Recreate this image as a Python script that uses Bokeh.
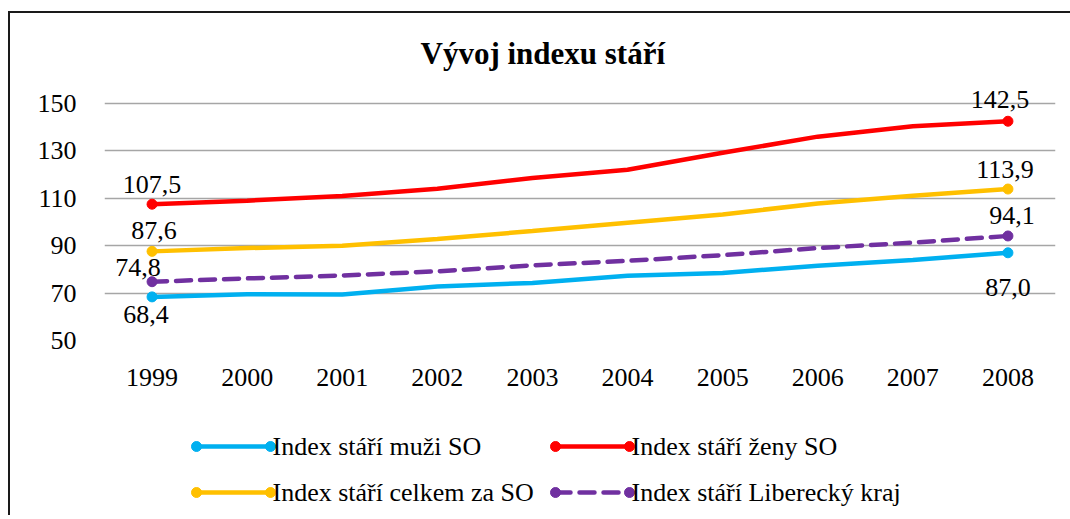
from bokeh.plotting import figure
from bokeh.models import Range1d, FactorRange, ColumnDataSource
from bokeh.layouts import column
from bokeh.core.properties import value
from bokeh.embed import file_html
from bokeh.resources import INLINE

# ---- data ----
years = ["1999", "2000", "2001", "2002", "2003", "2004", "2005", "2006", "2007", "2008"]
muzi = [68.4, 69.5, 69.4, 72.8, 74.3, 77.3, 78.5, 81.5, 84.0, 87.0]
zeny = [107.5, 109.0, 111.0, 114.0, 118.6, 122.0, 129.2, 136.0, 140.4, 142.5]
celkem = [87.6, 89.0, 90.0, 92.8, 96.2, 99.7, 103.2, 107.8, 111.1, 113.9]
liberec = [74.8, 76.2, 77.4, 79.2, 81.7, 83.6, 86.0, 89.0, 91.3, 94.1]
y_ticks = [50, 70, 90, 110, 130, 150]

series_names = ["Index stáří muži SO", "Index stáří ženy SO",
                "Index stáří celkem za SO", "Index stáří Liberecký kraj"]
series_values = [muzi, zeny, celkem, liberec]
colors = ["#00b0f0", "#ff0000", "#ffc000", "#7030a0"]
dashes = ["solid", "solid", "solid", "15 9"]

MB_LEFT, MB_RIGHT, WIDTH = 94, 15, 1060

fig = figure(width=WIDTH, height=397,
             x_range=FactorRange(*years), y_range=Range1d(50, 158),
             output_backend="svg", toolbar_location=None,
             min_border_left=MB_LEFT, min_border_right=MB_RIGHT,
             min_border_top=71, min_border_bottom=70)
fig.outline_line_color = None
fig.background_fill_color = "white"
fig.border_fill_color = "white"

fig.title.text = "Vývoj indexu stáří"
fig.title.align = "left"
fig.title.offset = 316
fig.title.text_font = "Liberation Serif"
fig.title.text_font_size = "31px"
fig.title.text_font_style = "bold"
fig.title.text_color = "black"
fig.title.standoff = 27

fig.xgrid.grid_line_color = None
fig.ygrid.grid_line_color = "#a6a6a6"
fig.ygrid.grid_line_width = 1.6
fig.yaxis.ticker = y_ticks
for ax in (fig.xaxis[0], fig.yaxis[0]):
    ax.axis_line_color = None
    ax.major_tick_line_color = None
    ax.minor_tick_line_color = None
    ax.major_label_text_font = "Liberation Serif"
    ax.major_label_text_font_size = "26px"
    ax.major_label_text_color = "black"
fig.yaxis.major_label_standoff = 22
fig.xaxis.major_label_standoff = 22

for vals, c, d in zip(series_values, colors, dashes):
    fig.line(years, vals, line_color=c, line_width=4.5, line_dash=d, line_cap="round")
    fig.scatter([years[0], years[-1]], [vals[0], vals[-1]], size=10,
                fill_color=c, line_color=c)

# data labels at first and last point
lab_x, lab_y, lab_t = [], [], []
for vals in series_values:
    for i in (0, len(vals) - 1):
        lab_x.append(years[i])
        lab_y.append(vals[i])
        lab_t.append(f"{vals[i]:.1f}".replace(".", ","))
# offsets (pixels) in the same order: muzi, zeny, celkem, liberec (first, last)
x_offs = [-6, 0, 0, -8, 2, -3, -14, 4]
y_offs = [18, 35, -20, -22, -21, -20, -14, -20]
src = ColumnDataSource(dict(x=lab_x, y=lab_y, t=lab_t, xo=x_offs, yo=y_offs))
fig.text(x="x", y="y", text="t", source=src, x_offset="xo", y_offset="yo",
         text_font=value("Liberation Serif"), text_font_size="26px", text_align="center",
         text_baseline="alphabetic", text_color="black")

# ---- legend as a separate small figure (frame aligned with chart frame) ----
leg = figure(width=WIDTH, height=105,
             x_range=Range1d(MB_LEFT, WIDTH - MB_RIGHT), y_range=Range1d(0, 105),
             output_backend="svg", toolbar_location=None,
             min_border_left=MB_LEFT, min_border_right=MB_RIGHT,
             min_border_top=0, min_border_bottom=0)
leg.axis.visible = False
leg.grid.grid_line_color = None
leg.outline_line_color = None
leg_x0 = [186, 186 + 359, 186, 186 + 359]
leg_y = [69, 69, 23, 23]
leg_len = 74
for name, c, d, x0, y in zip(series_names, colors, dashes, leg_x0, leg_y):
    leg.line([x0, x0 + leg_len], [y, y], line_color=c, line_width=4.5, line_dash=d, line_cap="round")
    leg.scatter([x0, x0 + leg_len], [y, y], size=10, fill_color=c, line_color=c)
    leg.text([x0 + leg_len + 2], [y], text=[name], text_font=value("Liberation Serif"),
             text_font_size="26px", text_align="left", text_baseline="middle",
             text_color="black")

p = column(fig, leg, styles={"border-top": "2px solid #1a1a1a",
                             "border-left": "2px solid #1a1a1a",
                             "margin-top": "11px",
                             "margin-left": "8px"})

open("out.html", "w").write(file_html(p, INLINE))
